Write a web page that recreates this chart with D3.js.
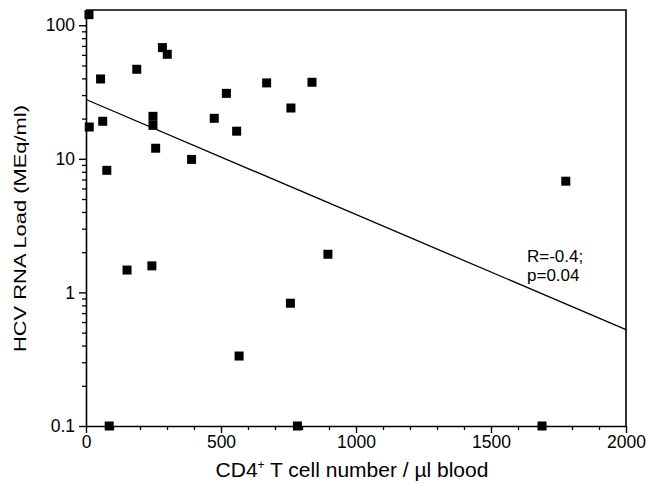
<!DOCTYPE html>
<html lang="en">
<head>
<meta charset="UTF-8">
<title>HCV RNA load vs CD4 count</title>
<script src="https://d3js.org/d3.v7.min.js"></script>
<style>
  body { margin: 0; background: #fff; }
  svg { display: block; font-family: "Liberation Sans", Arial, sans-serif; }
</style>
</head>
<body>
<svg></svg>
<script>
// CD4+ count (cells/ul) and HCV RNA load (MEq/ml) for each patient
const cd4 = [11, 12, 54, 62, 77, 188, 283, 301, 248, 248, 258, 391, 475, 669, 837, 520, 558, 759, 152, 244, 757, 896, 567, 1777, 86, 783, 1689];
const load = [120, 17.3, 39.6, 19.1, 8.2, 46.8, 68, 60.6, 20.8, 17.8, 12.0, 9.9, 20.1, 37.0, 37.4, 30.9, 16.1, 24.0, 1.47, 1.58, 0.83, 1.93, 0.334, 6.8, 0.1, 0.1, 0.1];

// regression line end points
const fitX = [0, 2000];
const fitY = [27.8, 0.527];

const xTicks = [0, 500, 1000, 1500, 2000];
const yTicks = [0.1, 1, 10, 100];

const width = 646, height = 487;
const margin = {top: 10, right: 20, bottom: 61, left: 86};

const svg = d3.select("svg").attr("width", width).attr("height", height);

const x = d3.scaleLinear().domain([0, 2000]).range([margin.left, width - margin.right]);
const y = d3.scaleLog().domain([0.1, 130]).range([height - margin.bottom, margin.top]);

const fmtY = d => d < 1 ? "0.1" : d3.format("d")(d);

// minor ticks
const xMinor = d3.range(0, 2001, 100).filter(v => v % 500 !== 0);
const yMinor = [];
[0.1, 1, 10].forEach(dec => { for (let k = 2; k <= 9; k++) yMinor.push(dec * k); });

svg.append("g")
    .attr("transform", `translate(0,${y(0.1)})`)
    .call(d3.axisBottom(x).tickValues(xMinor).tickSize(4).tickFormat("").tickSizeOuter(0))
    .call(g => g.select(".domain").remove())
    .selectAll("line").attr("stroke-width", 1.3);

svg.append("g")
    .attr("transform", `translate(${x(0)},0)`)
    .call(d3.axisLeft(y).tickValues(yMinor).tickSize(4).tickFormat("").tickSizeOuter(0))
    .call(g => g.select(".domain").remove())
    .selectAll("line").attr("stroke-width", 1.3);

const xAxis = svg.append("g")
    .attr("transform", `translate(0,${y(0.1)})`)
    .call(d3.axisBottom(x).tickValues(xTicks).tickFormat(d3.format("d")).tickSize(7).tickPadding(3).tickSizeOuter(0));
xAxis.attr("font-size", null).attr("font-family", null);
xAxis.select(".domain").attr("stroke-width", 1.6);
xAxis.selectAll("line").attr("stroke-width", 1.4);
xAxis.selectAll("text").style("font-size", "17.5px").attr("fill", "#000");

const yAxis = svg.append("g")
    .attr("transform", `translate(${x(0)},0)`)
    .call(d3.axisLeft(y).tickValues(yTicks).tickFormat(fmtY).tickSize(7).tickPadding(4).tickSizeOuter(0));
yAxis.attr("font-size", null).attr("font-family", null);
yAxis.select(".domain").attr("stroke-width", 1.6);
yAxis.selectAll("line").attr("stroke-width", 1.4);
yAxis.selectAll("text").style("font-size", "17.5px").attr("fill", "#000");

// top and right frame
svg.append("path")
    .attr("d", `M${x(0)},${y.range()[1]}H${x(2000)}V${y(0.1)}`)
    .attr("fill", "none").attr("stroke", "#000").attr("stroke-width", 1.6);

// regression line
svg.append("line")
    .attr("x1", x(fitX[0])).attr("y1", y(fitY[0]))
    .attr("x2", x(fitX[1])).attr("y2", y(fitY[1]))
    .attr("stroke", "#000").attr("stroke-width", 1.3);

// data points
const sz = 9;
svg.append("g").selectAll("rect")
    .data(d3.zip(cd4, load))
    .join("rect")
    .attr("x", d => x(d[0]) - sz / 2)
    .attr("y", d => y(d[1]) - sz / 2)
    .attr("width", sz).attr("height", sz)
    .attr("fill", "#000");

// annotation
const note = svg.append("text").attr("font-size", 17).attr("fill", "#000");
note.append("tspan").attr("x", 527).attr("y", 262).text("R=-0.4;");
note.append("tspan").attr("x", 527).attr("y", 281).text("p=0.04");

// axis titles
const xt = svg.append("text")
    .attr("x", (x(0) + x(2000)) / 2 - 4).attr("y", 477)
    .attr("text-anchor", "middle").attr("font-size", 21).attr("fill", "#000");
xt.append("tspan").text("CD4");
xt.append("tspan").attr("dy", -8).attr("font-size", 12).text("+");
xt.append("tspan").attr("dy", 8).text(" T cell number / \u00b5l blood");

svg.append("text")
    .attr("transform", `translate(26,${(105 + 352) / 2}) rotate(-90)`)
    .attr("text-anchor", "middle")
    .attr("font-size", 16)
    .attr("textLength", 247).attr("lengthAdjust", "spacingAndGlyphs")
    .attr("fill", "#000")
    .text("HCV RNA Load (MEq/ml)");
</script>
</body>
</html>
